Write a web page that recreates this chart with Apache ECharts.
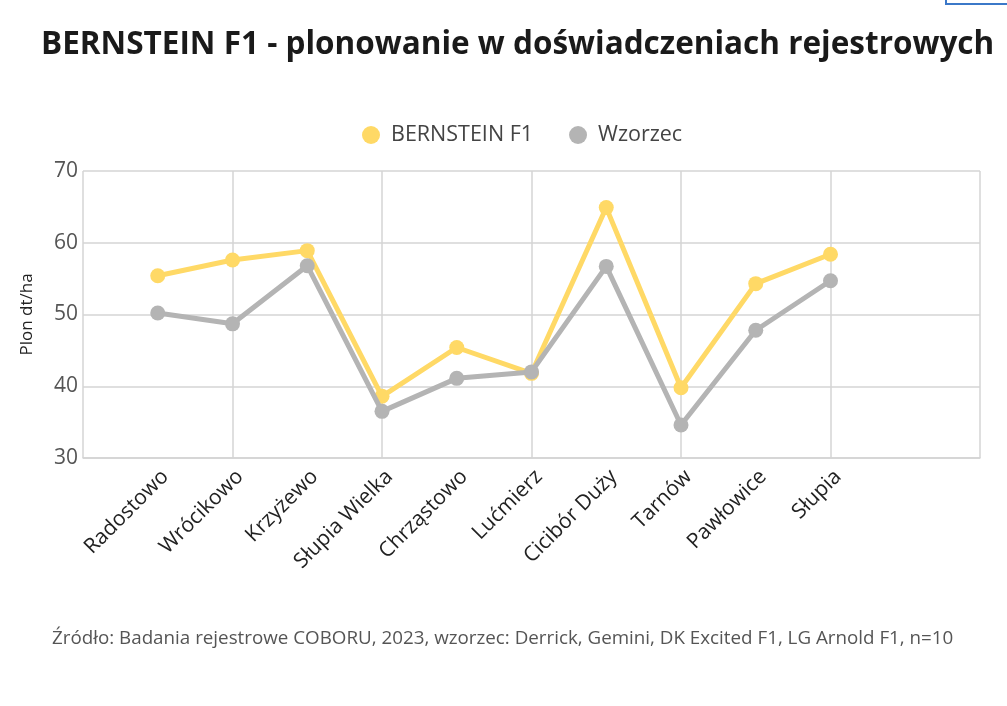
<!DOCTYPE html>
<html>
<head>
<meta charset="utf-8">
<style>
  html, body { margin: 0; padding: 0; background: #fff; }
  #chart { width: 1007px; height: 706px; }
</style>
<script src="https://cdn.jsdelivr.net/npm/echarts@6/dist/echarts.min.js"></script>
</head>
<body>
<div id="chart"></div>
<script>
// miejscowości (puste pozycje na brzegach osi, jak w oryginale)
var categories = ['', 'Radostowo', 'Wrócikowo', 'Krzyżewo', 'Słupia Wielka', 'Chrząstowo',
  'Lućmierz', 'Cicibór Duży', 'Tarnów', 'Pawłowice', 'Słupia', '', ''];
var bernstein = [null, 55.4, 57.6, 58.9, 38.6, 45.4, 41.8, 64.9, 39.8, 54.3, 58.4, null, null];
var wzorzec = [null, 50.2, 48.7, 56.8, 36.5, 41.1, 42.0, 56.7, 34.6, 47.8, 54.7, null, null];
var yTicks = [30, 40, 50, 60, 70];

var font = '"Open Sans", "Noto Sans", sans-serif';
var chart = echarts.init(document.getElementById('chart'));

var option = {
  backgroundColor: '#fff',
  animation: false,
  color: ['#FFD966', '#B4B4B4'],
  title: {
    text: 'BERNSTEIN F1 - plonowanie w doświadczeniach rejestrowych',
    left: 36,
    top: 24,
    textStyle: { fontFamily: font, fontWeight: 'bold', fontSize: 31.5, color: '#1a1a1a' }
  },
  legend: {
    top: 119,
    left: 357,
    icon: 'circle',
    itemWidth: 18,
    itemHeight: 18,
    itemGap: 36,
    textStyle: { fontFamily: font, fontSize: 21.5, color: '#444', padding: [0, 0, 0, 6] },
    data: ['BERNSTEIN F1', 'Wzorzec']
  },
  grid: { left: 83, right: 27, top: 171, bottom: 248 },
  xAxis: {
    type: 'category',
    data: categories,
    boundaryGap: false,
    axisLine: { lineStyle: { color: '#d4d4d4', width: 1.5 } },
    axisTick: { show: false },
    axisLabel: {
      interval: 0,
      rotate: 45,
      margin: 8,
      verticalAlign: 'top',
      fontFamily: font,
      fontSize: 21,
      color: '#222'
    },
    splitLine: { show: true, interval: 1, lineStyle: { color: '#d4d4d4', width: 1.5 } }
  },
  yAxis: {
    type: 'value',
    min: yTicks[0],
    max: yTicks[yTicks.length - 1],
    interval: 10,
    name: 'Plon dt/ha',
    nameLocation: 'middle',
    nameGap: 47,
    nameTextStyle: { fontFamily: font, fontSize: 17, color: '#222' },
    axisLine: { show: false },
    axisTick: { show: false },
    axisLabel: { fontFamily: font, fontSize: 21, color: '#555', margin: 5 },
    splitLine: { lineStyle: { color: '#d4d4d4', width: 1.5 } }
  },
  series: [
    {
      name: 'BERNSTEIN F1',
      type: 'line',
      data: bernstein,
      symbol: 'circle',
      symbolSize: 15,
      lineStyle: { width: 5 },
      z: 3
    },
    {
      name: 'Wzorzec',
      type: 'line',
      data: wzorzec,
      symbol: 'circle',
      symbolSize: 15,
      lineStyle: { width: 5 },
      z: 4
    }
  ],
  graphic: [
    {
      type: 'text',
      left: 52,
      top: 629,
      style: {
        text: 'Źródło: Badania rejestrowe COBORU, 2023, wzorzec: Derrick, Gemini, DK Excited F1, LG Arnold F1, n=10',
        fontFamily: font,
        fontSize: 18.8,
        fill: '#555'
      }
    },
    {
      type: 'rect',
      shape: { x: 946, y: -10, width: 80, height: 14 },
      style: { fill: 'none', stroke: '#3b78c8', lineWidth: 2 }
    }
  ]
};

chart.setOption(option);
</script>
</body>
</html>
